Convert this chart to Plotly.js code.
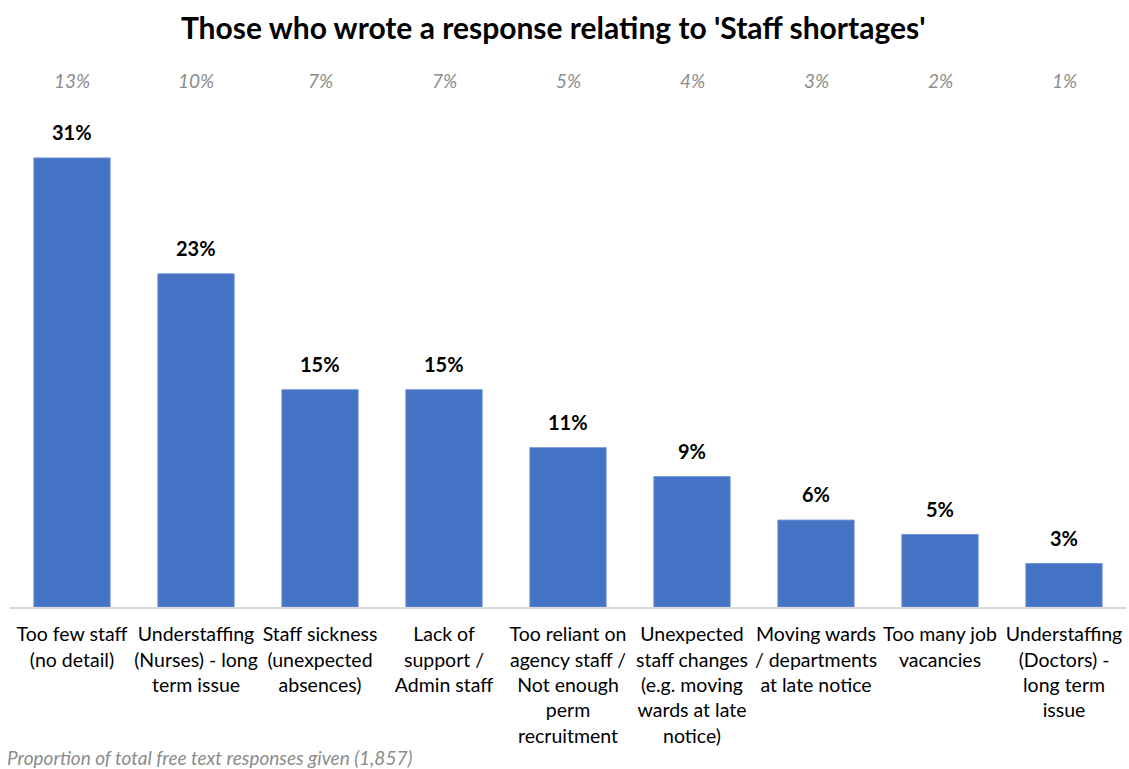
<!DOCTYPE html>
<html>
<head>
<meta charset="utf-8">
<script src="https://cdn.plot.ly/plotly-3.0.1.min.js"></script>
<style>
html,body{margin:0;padding:0;background:#fff;}
#chart{width:1129px;height:769px;}
</style>
</head>
<body>
<div id="chart"></div>
<script>
const categories = [
  "Too few staff<br>(no detail)",
  "Understaffing<br>(Nurses) - long<br>term issue",
  "Staff sickness<br>(unexpected<br>absences)",
  "Lack of<br>support /<br>Admin staff",
  "Too reliant on<br>agency staff /<br>Not enough<br>perm<br>recruitment",
  "Unexpected<br>staff changes<br>(e.g. moving<br>wards at late<br>notice)",
  "Moving wards<br>/ departments<br>at late notice",
  "Too many job<br>vacancies",
  "Understaffing<br>(Doctors) -<br>long term<br>issue"
];
const shareOfStaffing = [31, 23, 15, 15, 11, 9, 6, 5, 3];
const shareOfTotal = [13, 10, 7, 7, 5, 4, 3, 2, 1];
const footnote = "Proportion of total free text responses given (1,857)";
const chartTitle = "Those who wrote a response relating to 'Staff shortages'";

const FONT = "Lato, 'Open Sans', sans-serif";
const xIdx = categories.map((c, i) => i);

const trace = {
  type: 'bar',
  x: xIdx,
  y: shareOfStaffing,
  marker: {color: '#4472C4', line: {color: '#6f93d6', width: 1}},
  width: 0.615,
  hoverinfo: 'skip'
};

const annotations = [];
shareOfStaffing.forEach((v, i) => {
  annotations.push({
    x: i, y: v, xref: 'x', yref: 'y',
    text: '<b>' + v + '%</b>',
    showarrow: false, yanchor: 'bottom', yshift: 12,
    font: {family: FONT, size: 20, color: '#000'}
  });
});
shareOfTotal.forEach((v, i) => {
  annotations.push({
    x: i, y: 1, xref: 'x', yref: 'paper',
    text: '<i>' + v + '%</i>',
    showarrow: false, yanchor: 'middle', yshift: 20,
    font: {family: FONT, size: 19, color: '#8c8c8c'}
  });
});
annotations.push({
  x: 0.362, y: 0, xref: 'paper', yref: 'paper',
  text: '<i>' + footnote + '</i>',
  showarrow: false, xanchor: 'right', yanchor: 'middle', yshift: -150,
  font: {family: FONT, size: 19, color: '#8c8c8c'}
});

const layout = {
  width: 1129, height: 769,
  paper_bgcolor: '#fff', plot_bgcolor: '#fff',
  margin: {l: 10, r: 3, t: 100, b: 162},
  title: {
    text: '<b>' + chartTitle + '</b>',
    x: 0.49, xanchor: 'center', y: 1 - 28/769, yanchor: 'middle', yref: 'container',
    font: {family: FONT, size: 30, color: '#000'}
  },
  xaxis: {
    range: [-0.5, 8.5],
    tickmode: 'array', tickvals: xIdx, ticktext: categories,
    tickfont: {family: FONT, size: 19.5, color: '#000'},
    ticklabelstandoff: 9,
    showline: true, linecolor: '#d9d9d9', linewidth: 2,
    ticks: '', showgrid: false, zeroline: false, fixedrange: true
  },
  yaxis: {
    range: [0, 35], visible: false, showgrid: false, zeroline: false, fixedrange: true
  },
  annotations: annotations,
  showlegend: false,
  bargap: 0.385
};

Plotly.newPlot('chart', [trace], layout, {displayModeBar: false, staticPlot: true});
</script>
</body>
</html>
